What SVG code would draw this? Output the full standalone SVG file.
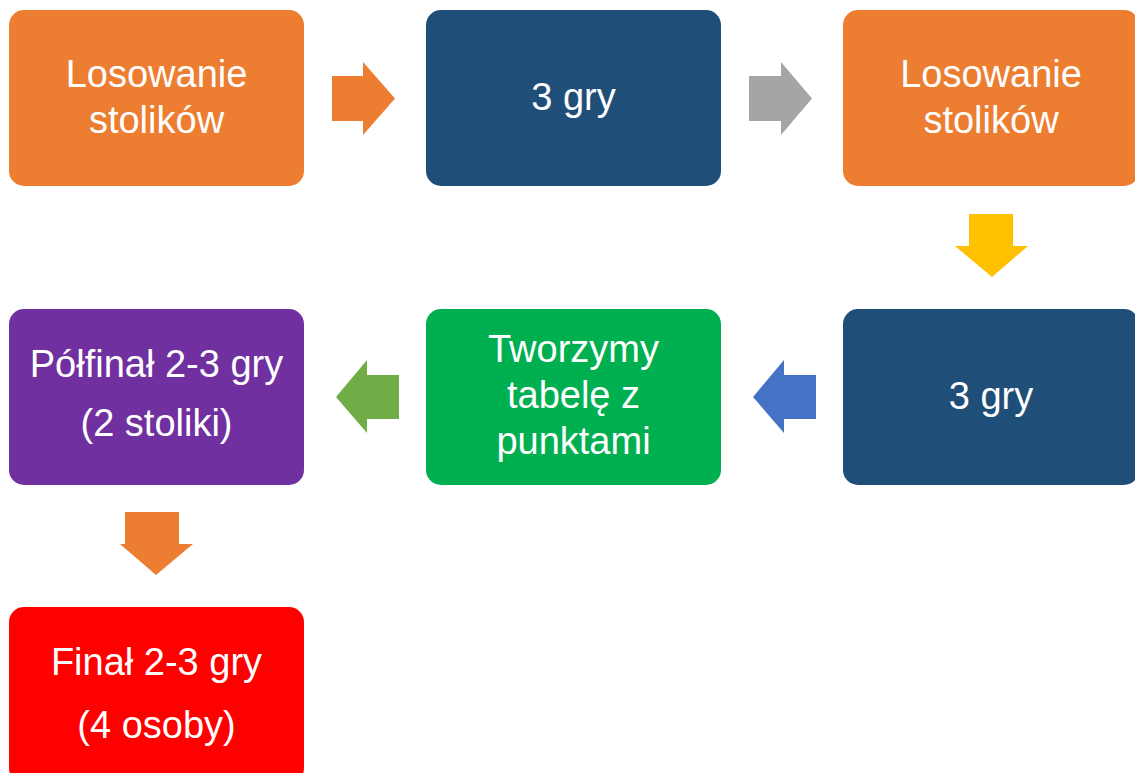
<svg xmlns="http://www.w3.org/2000/svg" width="1135" height="773" viewBox="0 0 1135 773">
<style>
.box{stroke:none}
.t{font-family:"Liberation Sans",Arial,sans-serif;font-size:38px;fill:#ffffff;text-anchor:middle}
</style>
<rect width="1135" height="773" fill="#ffffff"/>
<g id="connectors">
<polygon fill="#ED7D31" points="332,76 363,76 363,62 395,98.5 363,135 363,121 332,121"/>
<polygon fill="#A5A5A5" points="749,76 781,76 781,62 812,98.5 781,135 781,121 749,121"/>
<polygon fill="#FFC000" points="969,214 1013,214 1013,246 1028,246 992,277 955,246 969,246"/>
<polygon fill="#4472C4" points="816,375 784,375 784,360 753,397 784,433 784,419 816,419"/>
<polygon fill="#70AD47" points="399,375 367,375 367,360 336,397 367,433 367,419 399,419"/>
<polygon fill="#ED7D31" points="125,512 179,512 179,544 193,544 156,575 120,544 125,544"/>
</g>
<g id="n1"><rect class="box" x="9" y="10" width="295" height="176" rx="15" fill="#ED7D31"/>
<text class="t" x="156.5" y="87">Losowanie</text><text class="t" x="156.5" y="133">stolików</text></g>
<g id="n2"><rect class="box" x="426" y="10" width="295" height="176" rx="15" fill="#1F4E79"/>
<text class="t" x="573.5" y="110">3 gry</text></g>
<g id="n3"><rect class="box" x="843" y="10" width="296" height="176" rx="15" fill="#ED7D31"/>
<text class="t" x="991" y="87">Losowanie</text><text class="t" x="991" y="133">stolików</text></g>
<g id="n4"><rect class="box" x="843" y="309" width="296" height="176" rx="15" fill="#1F4E79"/>
<text class="t" x="991" y="409">3 gry</text></g>
<g id="n5"><rect class="box" x="426" y="309" width="295" height="176" rx="15" fill="#00B050"/>
<text class="t" x="573.5" y="362">Tworzymy</text><text class="t" x="573.5" y="408">tabelę z</text><text class="t" x="573.5" y="454">punktami</text></g>
<g id="n6"><rect class="box" x="9" y="309" width="295" height="176" rx="15" fill="#7030A0"/>
<text class="t" x="156.5" y="377">Półfinał 2-3 gry</text><text class="t" x="156.5" y="436">(2 stoliki)</text></g>
<g id="n7"><rect class="box" x="9" y="607" width="295" height="176" rx="15" fill="#FF0000"/>
<text class="t" x="156.5" y="675">Finał 2-3 gry</text><text class="t" x="156.5" y="738">(4 osoby)</text></g>
</svg>
